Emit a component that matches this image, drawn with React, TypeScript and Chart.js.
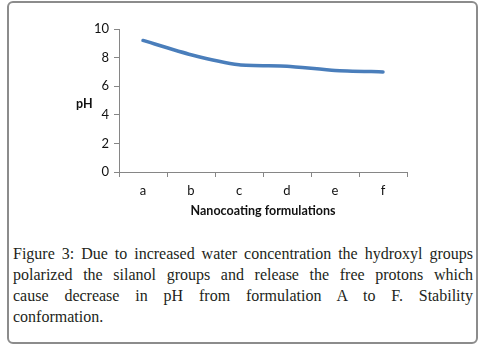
import React, { useEffect, useRef } from "react";
import { Chart, registerables } from "chart.js";

Chart.register(...registerables);

const categories = ["a", "b", "c", "d", "e", "f"];
const phValues = [9.2, 8.2, 7.5, 7.4, 7.1, 7.0];
const yTickMin = 0;
const yTickMax = 10;
const yTickStep = 2;
const xTitle = "Nanocoating formulations";
const yTitle = "pH";
const captionLines = [
  "Figure 3: Due to increased water concentration the hydroxyl groups",
  "polarized the silanol groups and release the free protons which",
  "cause decrease in pH from formulation A to F. Stability",
  "conformation.",
];

const AXIS = "#868686";
const TICKFONT = { family: "Lato", size: 13 };

export default function App() {
  const ref = useRef<HTMLCanvasElement>(null);

  useEffect(() => {
    const canvas = ref.current;
    if (!canvas) return;
    const chart = new Chart(canvas, {
      type: "line",
      data: {
        labels: categories,
        datasets: [
          {
            data: phValues,
            borderColor: "#4A7EBB",
            borderWidth: 3.5,
            pointRadius: 0,
            tension: 0.2,
            borderCapStyle: "round",
            borderJoinStyle: "round",
            fill: false,
          },
        ],
      },
      options: {
        responsive: false,
        animation: false,
        devicePixelRatio: 1,
        layout: { padding: { left: 0, right: 78, top: 29, bottom: 0 } },
        plugins: { legend: { display: false }, tooltip: { enabled: false } },
        scales: {
          x: {
            type: "category",
            offset: true,
            afterFit: (s: any) => {
              s.height = 50;
            },
            grid: {
              offset: true,
              drawOnChartArea: false,
              tickLength: 5,
              color: AXIS,
            },
            border: { color: AXIS, width: 1 },
            ticks: { font: TICKFONT, color: "#111", padding: 6, maxRotation: 0 },
            title: {
              display: true,
              text: xTitle,
              color: "#111",
              font: { family: "Lato", size: 12.5, weight: "bold" },
              padding: { top: 0, bottom: 4 },
            },
          },
          y: {
            min: yTickMin,
            max: yTickMax,
            afterFit: (s: any) => {
              s.width = 119;
            },
            grid: { drawOnChartArea: false, tickLength: 5, color: AXIS },
            border: { color: AXIS, width: 1 },
            ticks: { stepSize: yTickStep, font: TICKFONT, color: "#111", padding: 5 },
          },
        },
      },
    });
    return () => chart.destroy();
  }, []);

  return (
    <div
      style={{
        position: "absolute",
        left: 0,
        top: 0,
        width: 485,
        height: 348,
        background: "#fff",
      }}
    >
      <div
        style={{
          position: "absolute",
          left: 7,
          top: 1,
          width: 471,
          height: 343,
          boxSizing: "border-box",
          border: "2px solid #8c8c8c",
          borderRadius: 6,
        }}
      />
      <canvas
        ref={ref}
        width={485}
        height={222}
        style={{ position: "absolute", left: 0, top: 0, width: 485, height: 222 }}
      />
      <div
        style={{
          position: "absolute",
          left: 76,
          top: 96,
          fontFamily: "Lato",
          fontWeight: "bold",
          fontSize: 12.5,
          color: "#111",
        }}
      >
        {yTitle}
      </div>
      <div
        style={{
          position: "absolute",
          left: 13,
          top: 243,
          width: 460,
          fontFamily: "'Liberation Serif', serif",
          fontSize: 16,
          lineHeight: "21px",
          color: "#231f20",
        }}
      >
        {captionLines.map((l, i) => (
          <div
            key={i}
            style={{
              textAlign: "justify",
              textAlignLast: i < captionLines.length - 1 ? "justify" : "left",
            }}
          >
            {l}
          </div>
        ))}
      </div>
    </div>
  );
}
